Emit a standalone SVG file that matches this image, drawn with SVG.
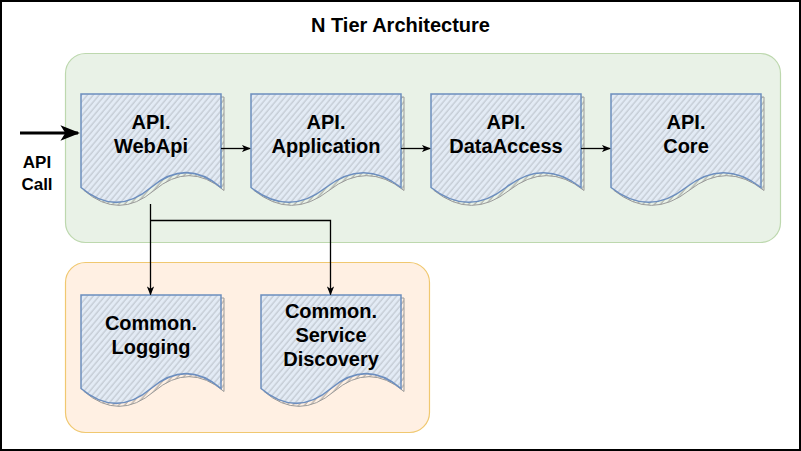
<svg xmlns="http://www.w3.org/2000/svg" width="801" height="451" viewBox="0 0 801 451">
<style>
.t{font-family:"Liberation Sans",Arial,sans-serif;font-weight:bold;fill:#000;text-anchor:middle}
.n{font-size:20px}
.doc{fill:url(#hatch);stroke:#6c8ebf;stroke-width:1.5}
.shd{fill:url(#hatchS);stroke:#9a9a9a;stroke-width:1}
.edge{fill:none;stroke:#000;stroke-width:1.3}
</style>
<defs>
<pattern id="hatch" patternUnits="userSpaceOnUse" width="4.5" height="4.5" patternTransform="rotate(40)">
<rect width="4.5" height="4.5" fill="#e3ebf5"/>
<line x1="1" y1="0" x2="1" y2="4.5" stroke="#a6abb2" stroke-width="0.7"/>
</pattern>
<pattern id="hatchS" patternUnits="userSpaceOnUse" width="4.5" height="4.5" patternTransform="rotate(40)">
<line x1="1" y1="0" x2="1" y2="4.5" stroke="#858585" stroke-width="0.8"/>
</pattern>
<path id="d140" d="M0,0 L140,0 L140,93.5 Q105,63.8 70,93.5 Q35,123.2 0,93.5 Z"/>
<path id="d150" d="M0,0 L150,0 L150,93.5 Q112.5,63.8 75,93.5 Q37.5,123.2 0,93.5 Z"/>
<marker id="arr" viewBox="0 0 10 8" refX="9" refY="4" markerWidth="9" markerHeight="7.5" markerUnits="userSpaceOnUse" orient="auto">
<path d="M0,0 L10,4 L0,8 L2.5,4 Z" fill="#000"/>
</marker>
<marker id="arrBig" viewBox="0 0 10 8" refX="9" refY="4" markerWidth="6.5" markerHeight="5.2" markerUnits="strokeWidth" orient="auto">
<path d="M0,0 L10,4 L0,8 L2.5,4 Z" fill="#000"/>
</marker>
</defs>
<rect x="1" y="1" width="799" height="449" fill="#fff" stroke="#000" stroke-width="2"/>
<text class="t n" x="400.5" y="32">N Tier Architecture</text>

<g id="tier-api">
<rect x="65.5" y="53.5" width="715" height="189" rx="20" fill="#e9f2e7" stroke="#bdd8ae" stroke-width="1.2"/>
</g>
<g id="tier-common">
<rect x="65.5" y="262.5" width="364" height="170" rx="20" fill="#fff0e3" stroke="#f0c870" stroke-width="1.2"/>
</g>

<g id="api-webapi">
<use href="#d140" class="shd" transform="translate(84,97)"/>
<use href="#d140" class="doc" transform="translate(81,94)"/>
<text class="t n" x="151" y="129">API.</text>
<text class="t n" x="151" y="153">WebApi</text>
</g>
<g id="api-application">
<use href="#d150" class="shd" transform="translate(254,97)"/>
<use href="#d150" class="doc" transform="translate(251,94)"/>
<text class="t n" x="326" y="129">API.</text>
<text class="t n" x="326" y="153">Application</text>
</g>
<g id="api-dataaccess">
<use href="#d150" class="shd" transform="translate(434,97)"/>
<use href="#d150" class="doc" transform="translate(431,94)"/>
<text class="t n" x="506" y="129">API.</text>
<text class="t n" x="506" y="153">DataAccess</text>
</g>
<g id="api-core">
<use href="#d150" class="shd" transform="translate(614,97)"/>
<use href="#d150" class="doc" transform="translate(611,94)"/>
<text class="t n" x="686" y="129">API.</text>
<text class="t n" x="686" y="153">Core</text>
</g>
<g id="common-logging">
<use href="#d140" class="shd" transform="translate(84,298)"/>
<use href="#d140" class="doc" transform="translate(81,295)"/>
<text class="t n" x="151" y="330">Common.</text>
<text class="t n" x="151" y="354">Logging</text>
</g>
<g id="common-servicediscovery">
<use href="#d140" class="shd" transform="translate(264,298)"/>
<use href="#d140" class="doc" transform="translate(261,295)"/>
<text class="t n" x="331" y="318">Common.</text>
<text class="t n" x="331" y="342">Service</text>
<text class="t n" x="331" y="366">Discovery</text>
</g>
<g id="api-call-label">
<text class="t" style="font-size:17px" x="37" y="168">API</text>
<text class="t" style="font-size:17px" x="37" y="190">Call</text>
</g>

<g id="connectors">
<path d="M20,133 L78,133" fill="none" stroke="#000" stroke-width="3" marker-end="url(#arrBig)"/>
<path class="edge" d="M221,148.5 L250,148.5" marker-end="url(#arr)"/>
<path class="edge" d="M401,148.5 L430,148.5" marker-end="url(#arr)"/>
<path class="edge" d="M581,148.5 L610,148.5" marker-end="url(#arr)"/>
<path class="edge" d="M150.5,204 L150.5,294.5" marker-end="url(#arr)"/>
<path class="edge" d="M150.5,220.5 L330.5,220.5 L330.5,294.5" marker-end="url(#arr)"/>
</g>
</svg>
